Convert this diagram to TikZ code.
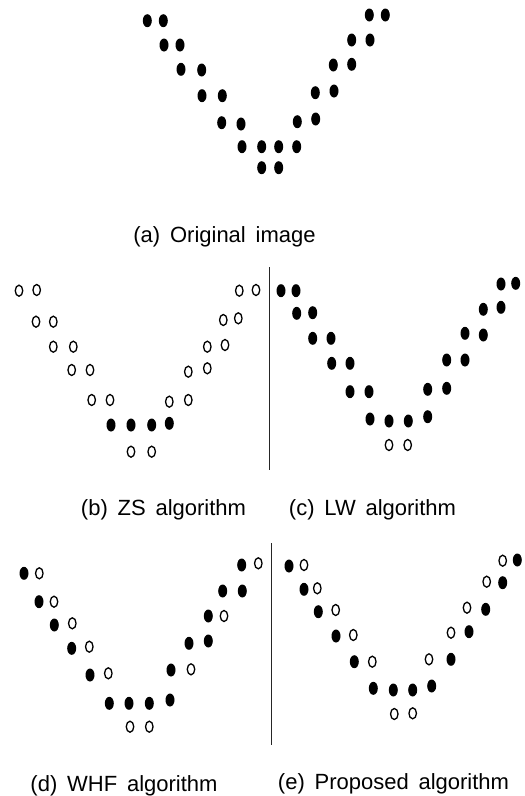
\documentclass[tikz,border=0pt]{standalone}
\usepackage{fontspec}
\setmainfont{Liberation Sans}
\usetikzlibrary{shapes.geometric}
\tikzset{
  fdot/.style={ellipse,fill=black,draw=none,minimum width=9pt,minimum height=13pt,inner sep=0pt},
  odot/.style={ellipse,draw=black,fill=white,line width=1.3pt,minimum width=7.5pt,minimum height=11pt,inner sep=0pt},
  caption/.style={anchor=base,inner sep=0pt,font=\fontsize{22}{26}\selectfont},
  divider/.style={line width=1.2pt,draw=black!85}
}
\begin{document}
\begin{tikzpicture}[x=1pt,y=-1pt]
\useasboundingbox (0,0) rectangle (525,796);
% (a) original image
\foreach \x/\y [count=\i] in {147.3/20.7,163.3/20.7,164/45,180/45,181/69.3,201.7/70,202/95.7,222.3/95.7,221.7/122.7,241/124,242/146.7,261.7/146.7,278.7/146.7,296.7/146.7,261.7/167.7,278.7/167.7,297.3/121.7,315.7/119,315.3/92.7,334/91,333.3/65,351.7/64.3,351.7/40,370/40,369.3/15,385.3/15}
  \node[fdot] (a\i) at (\x,\y) {};
\node[caption] (capa) at (224.5,242) {(a)\, Original\, image};
% (b) ZS
\foreach \x/\y [count=\i] in {19/290.7,36.7/290,36/321.7,53.3/321.7,53.3/346.7,73.3/346.7,71.7/370,90/370,91.7/400,110/400,131/451.7,151.7/451.7,169.3/401.7,188.3/400,188.3/371.7,207.3/368.3,207.3/346.7,225/345,223.3/320,238.3/318.3,239.3/290.7,256/290}
  \node[odot] (bo\i) at (\x,\y) {};
\foreach \x/\y [count=\i] in {111/425,131/425,151.7/425,169.3/423.3}
  \node[fdot] (bf\i) at (\x,\y) {};
\node[caption] (capb) at (163.5,515) {(b)\, ZS\, algorithm};
% divider 1
\coordinate (d1t) at (269.3,267);
\coordinate (d1b) at (269.3,470);
\draw[divider] (d1t) -- (d1b);
% (c) LW
\foreach \x/\y [count=\i] in {281/290.7,296/290.7,296.7/313.3,312.7/312.7,312.7/338.3,331/338.3,331.7/363.3,350/363.3,350/391.7,369/391.7,370/419,389/421,408.3/421,427.7/416.7,427.7/389.3,446.7/388.3,446.7/360,465/360,465/333.3,483.3/335,483.3/309.3,501/307.3,501/284,515.7/283.3}
  \node[fdot] (cf\i) at (\x,\y) {};
\foreach \x/\y [count=\i] in {389/445,407.7/445}
  \node[odot] (co\i) at (\x,\y) {};
\node[caption] (capc) at (372.5,515) {(c)\, LW\, algorithm};
% (d) WHF
\foreach \x/\y [count=\i] in {24/573.3,39/601.7,54.3/625,71.7/648.3,90/675,109.3/703.3,129/703.3,149.3/703.3,170/700,171/670,189/643.3,208.3/641,208.3/616,222.7/591,242.3/591,241.7/565}
  \node[fdot] (df\i) at (\x,\y) {};
\foreach \x/\y [count=\i] in {39.3/573.3,54/601.7,72.3/623.3,89.3/646.7,108.3/673.3,130/726.7,149.3/726.7,191/669.3,224/616,258.3/563.3}
  \node[odot] (do\i) at (\x,\y) {};
\node[caption] (capd) at (124,791) {(d)\, WHF\, algorithm};
% divider 2
\coordinate (d2t) at (271.7,543);
\coordinate (d2b) at (271.7,745);
\draw[divider] (d2t) -- (d2b);
% (e) proposed
\foreach \x/\y [count=\i] in {289/566,304/589.3,318.3/611.7,336/636,354.3/661.7,373.3/688.3,393.3/690,412.7/690,431.7/686,451/659.3,469/631.7,485.7/609.3,502.7/582.7,517.3/560}
  \node[fdot] (ef\i) at (\x,\y) {};
\foreach \x/\y [count=\i] in {304/565,317.3/588.3,335.7/610,353.3/635,372.3/661.7,394.3/714,412.7/713.3,429/659.3,451/632.7,467/607.7,486.7/581.7,502.7/560.7}
  \node[odot] (eo\i) at (\x,\y) {};
\node[caption] (cape) at (393.5,789.3) {(e)\, Proposed\, algorithm};
\end{tikzpicture}
\end{document}
